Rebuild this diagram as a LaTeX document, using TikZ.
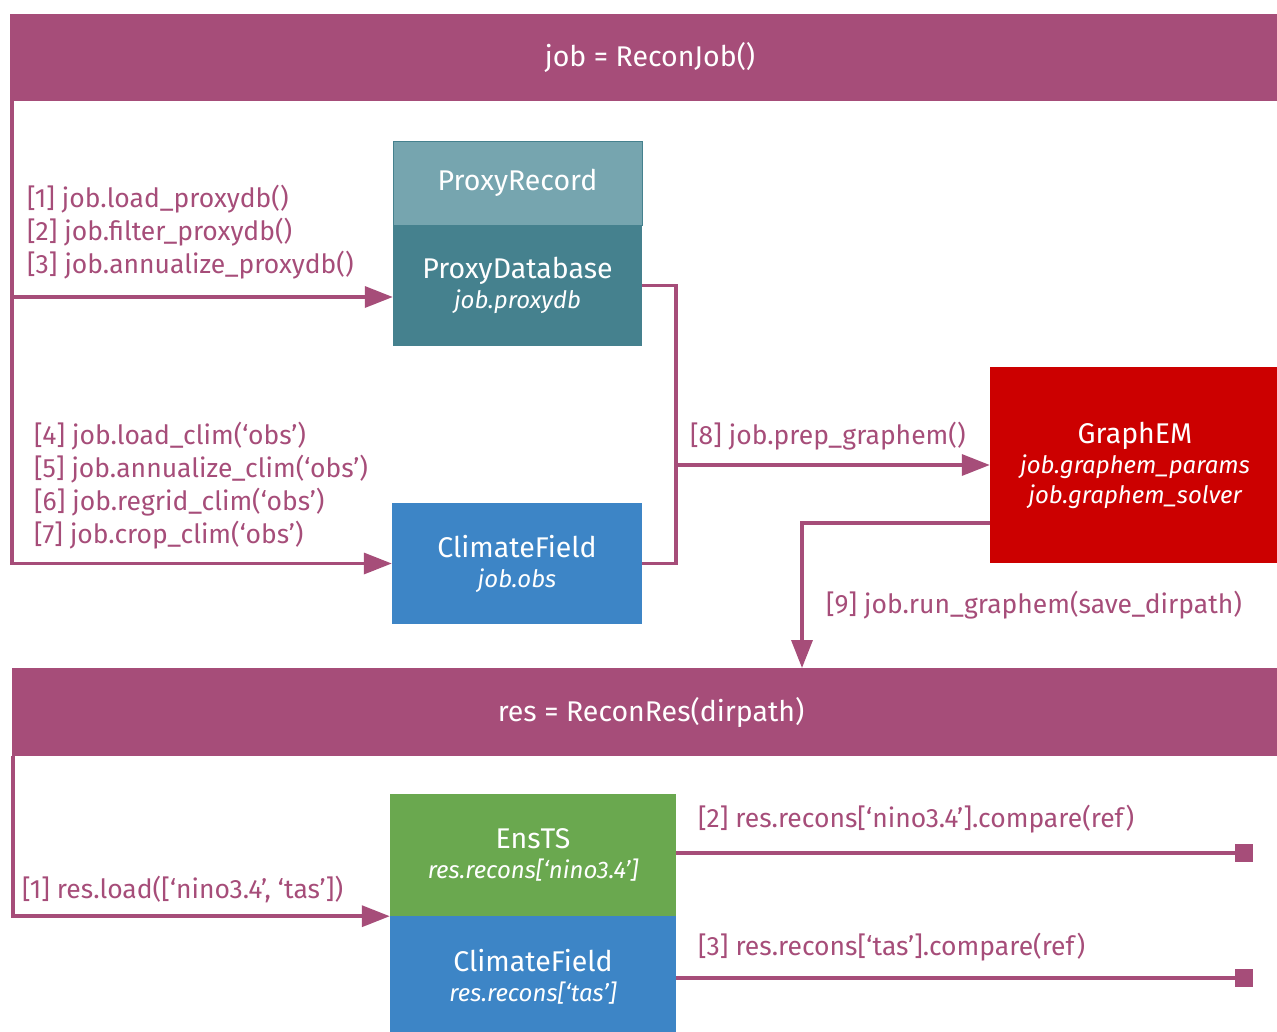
\documentclass[tikz,border=0pt]{standalone}
\usepackage{fontspec}
\setmainfont{Fira Sans}
\usetikzlibrary{arrows.meta,positioning}
\definecolor{plum}{HTML}{A64D79}
\definecolor{recteal}{HTML}{76A5AF}
\definecolor{dbteal}{HTML}{45818E}
\definecolor{fieldblue}{HTML}{3D85C6}
\definecolor{emred}{HTML}{CC0000}
\definecolor{tsgreen}{HTML}{6AA84F}
\newcommand\attr[1]{{\fontsize{24}{29}\selectfont\itshape #1}}
\tikzset{
  bar/.style={fill=plum, text=white, inner sep=0pt,
    font=\fontsize{28.5}{30}\selectfont},
  cls/.style={text=white, align=center, inner sep=0pt,
    font=\fontsize{28.5}{30}\selectfont},
  call/.style={text=plum, align=left, anchor=west, inner sep=0pt,
    font=\fontsize{26.5}{33}\selectfont},
  flow/.style={draw=plum, line width=3.5pt},
  go/.style={flow, -{Triangle[length=28pt,width=21pt]}},
  stop/.style={flow, -{Square[length=18pt,width=18pt]}},
}
\begin{document}
\begin{tikzpicture}[x=1pt, y=-1pt]
  \useasboundingbox (0,0) rectangle (1277,1031);
  \clip (0,0) rectangle (1277,1031);
  % the two objects
  \node[bar, minimum width=1280pt, minimum height=87pt] (job) at (650,57.5) {job = ReconJob()};
  \node[bar, minimum width=1278pt, minimum height=88pt] (res) at (651,712) {res = ReconRes(dirpath)};
  % classes behind job
  \node[cls, fill=recteal, draw=dbteal, minimum width=249pt, minimum height=84pt] (rec) at (517.5,183) {ProxyRecord};
  \node[cls, fill=dbteal, minimum width=249pt, minimum height=121pt] (db) at (517.5,285.5)
    {ProxyDatabase\\ \attr{job.proxydb}};
  \node[cls, fill=fieldblue, minimum width=250pt, minimum height=121pt] (cf) at (517,563.5)
    {ClimateField\\ \attr{job.obs}};
  \node[cls, fill=emred, minimum width=290pt, minimum height=196pt] (em) at (1135,465)
    {GraphEM\\ \attr{job.graphem\_params}\\ \attr{job.graphem\_solver}};
  % classes behind res
  \node[cls, fill=tsgreen, minimum width=286pt, minimum height=122pt] (ts) at (533,855)
    {EnsTS\\ \attr{res.recons[‘nino3.4’]}};
  \node[cls, fill=fieldblue, minimum width=286pt, minimum height=122pt] (cfr) at (533,977)
    {ClimateField\\ \attr{res.recons[‘tas’]}};
  % calls
  \node[call] (l13) at (27,232) {[1] job.load\_proxydb()\\{[2]} job.filter\_proxydb()\\{[3]} job.annualize\_proxydb()};
  \node[call] (l47) at (34,486) {[4] job.load\_clim(‘obs’)\\{[5]} job.annualize\_clim(‘obs’)\\{[6]} job.regrid\_clim(‘obs’)\\{[7]} job.crop\_clim(‘obs’)};
  \node[call] (l8) at (690,436) {[8] job.prep\_graphem()};
  \node[call] (l9) at (826,605) {[9] job.run\_graphem(save\_dirpath)};
  \node[call] (r1) at (22,889) {[1] res.load([‘nino3.4’, ‘tas’])};
  \node[call] (r2) at (698,819) {[2] res.recons[‘nino3.4’].compare(ref)};
  \node[call] (r3) at (698,947) {[3] res.recons[‘tas’].compare(ref)};
  % connectors
  \coordinate (j1) at (12,297);
  \coordinate (m8) at (676,465);
  \coordinate (r9) at (802,668);
  \coordinate (e2) at (1253,853);
  \coordinate (e3) at (1253,978);
  \draw[go] ([xshift=2pt]job.south west) |- (cf.west);
  \draw[go] (j1) -- (j1 -| db.west);
  \draw[flow] (db.east) -| (m8) |- (cf.east);
  \draw[go] (m8) -- (em.west);
  \draw[go] ([yshift=-58pt]em.west) -| (r9);
  \draw[go] ([xshift=1pt]res.south west) |- (ts.south west);
  \draw[stop] (ts.east |- e2) -- (e2);
  \draw[stop] (cfr.east |- e3) -- (e3);
\end{tikzpicture}
\end{document}
